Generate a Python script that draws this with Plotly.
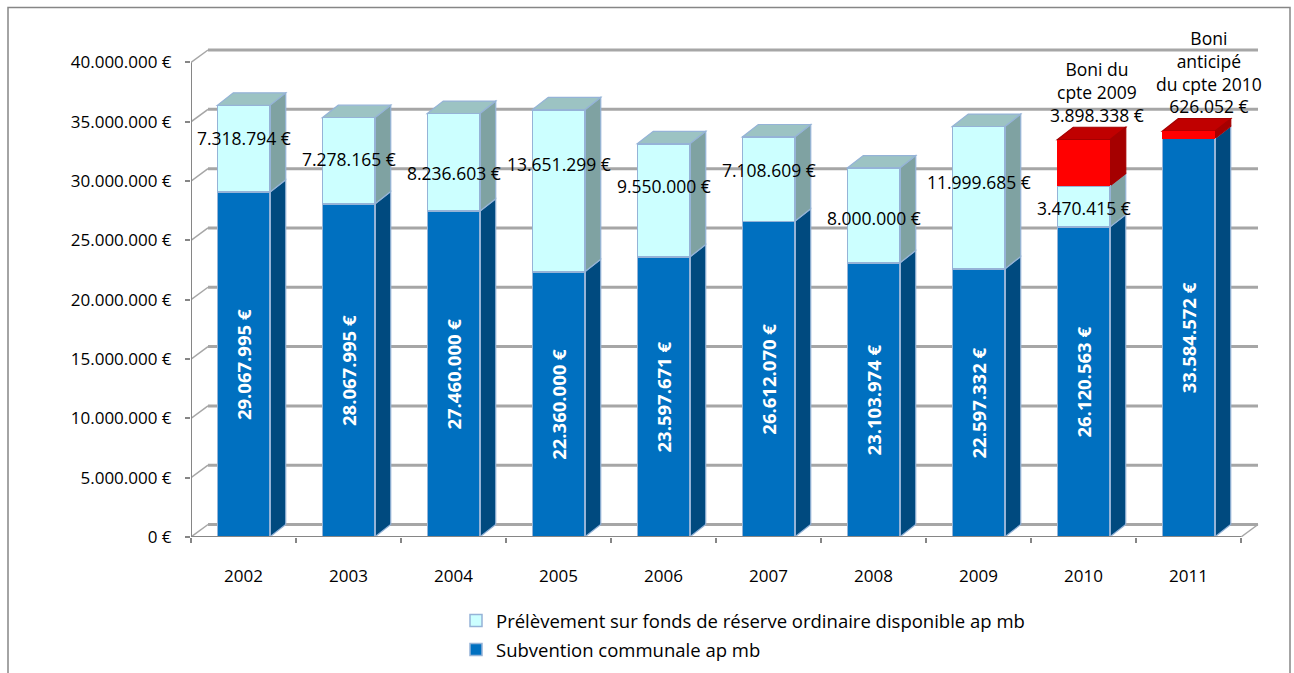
import plotly.graph_objects as go

# ---------------- data ----------------
years = ["2002", "2003", "2004", "2005", "2006", "2007", "2008", "2009", "2010", "2011"]
subvention = [29067995, 28067995, 27460000, 22360000, 23597671, 26612070, 23103974, 22597332, 26120563, 33584572]
prelevement = [7318794, 7278165, 8236603, 13651299, 9550000, 7108609, 8000000, 11999685, 3470415, None]
boni = [None, None, None, None, None, None, None, None, 3898338, 626052]
boni_titles = [None, None, None, None, None, None, None, None, "Boni du<br>cpte 2009", "Boni<br>anticipé<br>du cpte 2010"]
y_tick_values = [0, 5000000, 10000000, 15000000, 20000000, 25000000, 30000000, 35000000, 40000000]
name_sub = "Subvention communale ap mb"
name_pre = "Prélèvement sur fonds de réserve ordinaire disponible ap mb"

# ---------------- layout constants (pixels) ----------------
W, H = 1294, 673
PLOT_L = 191
CAT_PX = 105
Y0_PX = 537
YMAX_PX = 62
YMAX = 40000000
PX_PER_Y = (Y0_PX - YMAX_PX) / YMAX
WALL_DX, WALL_DY = 17, 12.5
BAR_DX, BAR_DY = 16, 12.5
PAD = 4
n = len(years)
plot_r_px = PLOT_L + n * CAT_PX + WALL_DX + PAD
plot_t_px = YMAX_PX - WALL_DY - PAD
x_range = [-0.5, n - 0.5 + (WALL_DX + PAD) / CAT_PX]
y_range = [0, YMAX + (WALL_DY + PAD) / PX_PER_Y]
PLOT_W = plot_r_px - PLOT_L
PLOT_H = Y0_PX - plot_t_px

def dx(px):
    return px / CAT_PX

def dy(px):
    return px / PX_PER_Y

def xp(px):
    return (px - PLOT_L) / PLOT_W

def yp(py):
    return (Y0_PX - py) / PLOT_H

BAR_W = 0.5
FONT = "Open Sans, Lato, Roboto, sans-serif"
BLUE = ("#0070C0", "#004A7F", "#005A9E")
CYAN = ("#CCFFFF", "#7FA2A2", "#9CC3C3")
RED = ("#FF0000", "#A50000", "#C00000")
EDGE = "#95B3D7"
GRID = "#A6A6A6"
AXIS = "#868686"

def fmt(v):
    return f"{v:,}".replace(",", ".") + " €"

shapes = []
# back wall gridlines and left wall diagonals
for v in y_tick_values:
    shapes.append(dict(type="line", xref="x", yref="y", layer="below",
                       x0=-0.5 + dx(WALL_DX), x1=n - 0.5 + dx(WALL_DX),
                       y0=v + dy(WALL_DY), y1=v + dy(WALL_DY),
                       line=dict(color=GRID, width=3)))
    shapes.append(dict(type="line", xref="x", yref="y", layer="below",
                       x0=-0.5, x1=-0.5 + dx(WALL_DX), y0=v, y1=v + dy(WALL_DY),
                       line=dict(color=GRID, width=1.5)))
shapes.append(dict(type="line", xref="x", yref="y", layer="below",
                   x0=n - 0.5, x1=n - 0.5 + dx(WALL_DX), y0=0, y1=dy(WALL_DY),
                   line=dict(color=GRID, width=1.5)))

def path(pts):
    return "M " + " L ".join(f"{px},{py}" for px, py in pts) + " Z"

# 3D side / top faces of the bars, built from the data
for i in range(n):
    segs = []
    base = 0
    for vals, cols, edge in ((subvention, BLUE, True), (prelevement, CYAN, True), (boni, RED, False)):
        v = vals[i]
        if v:
            segs.append((base, base + v, cols, edge))
            base += v
    xr = i + BAR_W / 2
    xl = i - BAR_W / 2
    for k, (b, t, cols, edge) in enumerate(segs):
        lc = EDGE if edge else cols[1]
        shapes.append(dict(type="path", xref="x", yref="y", layer="below",
                           path=path([(xr, b), (xr + dx(BAR_DX), b + dy(BAR_DY)),
                                      (xr + dx(BAR_DX), t + dy(BAR_DY)), (xr, t)]),
                           fillcolor=cols[1], line=dict(color=lc, width=1.2)))
        if k == len(segs) - 1:
            shapes.append(dict(type="path", xref="x", yref="y", layer="below",
                               path=path([(xl, t), (xl + dx(BAR_DX), t + dy(BAR_DY)),
                                          (xr + dx(BAR_DX), t + dy(BAR_DY)), (xr, t)]),
                               fillcolor=cols[2], line=dict(color=lc, width=1.2)))

# front axis lines
shapes.append(dict(type="line", xref="x", yref="y", x0=-0.5, x1=n - 0.5, y0=0, y1=0,
                   line=dict(color=AXIS, width=2)))
shapes.append(dict(type="line", xref="x", yref="y", x0=-0.5, x1=-0.5, y0=0, y1=YMAX,
                   line=dict(color=AXIS, width=2)))
# chart border
shapes.append(dict(type="rect", xref="paper", yref="paper",
                   x0=xp(8), x1=xp(1290), y0=yp(7), y1=yp(690),
                   line=dict(color=AXIS, width=1.5), fillcolor="rgba(0,0,0,0)"))

fig = go.Figure()
fig.add_trace(go.Bar(
    x=years, y=subvention, name=name_sub, width=BAR_W, legend="legend2",
    marker=dict(color=BLUE[0], line=dict(color=EDGE, width=1.5)),
    text=[f"<b>{fmt(v)}</b>" for v in subvention], textposition="inside",
    insidetextanchor="middle", textangle=-90, constraintext="none",
    textfont=dict(family=FONT, size=18.5, color="white"),
))
fig.add_trace(go.Bar(
    x=years, y=prelevement, name=name_pre, width=BAR_W, legend="legend",
    marker=dict(color=CYAN[0], line=dict(color=EDGE, width=1.5)),
))
fig.add_trace(go.Bar(
    x=years, y=boni, name="Boni", width=BAR_W, showlegend=False,
    marker=dict(color=RED[0], line=dict(color=RED[0], width=0)),
))

annotations = []
# label offsets (pixels) as placed on the original chart
pre_label_shift = [11, 2, -11, 27, 14, 9, -3, 16, -1, 0]
for i, v in enumerate(prelevement):
    if v:
        mid = subvention[i] + v / 2
        annotations.append(dict(x=i, y=mid, xref="x", yref="y", text=fmt(v), showarrow=False,
                                yshift=pre_label_shift[i],
                                font=dict(family=FONT, size=17.5, color="black")))
boni_xshift = [0, 0, 0, 0, 0, 0, 0, 0, 13, 20]
for i, v in enumerate(boni):
    if v:
        top = subvention[i] + (prelevement[i] or 0) + v
        annotations.append(dict(x=i, y=top, xref="x", yref="y",
                                text=f"{boni_titles[i]}<br>{fmt(v)}",
                                showarrow=False, yanchor="bottom", yshift=11,
                                xshift=boni_xshift[i], align="center",
                                font=dict(family=FONT, size=17.5, color="black")))

legend_style = dict(orientation="v", xanchor="left", yanchor="top", itemwidth=30,
                    font=dict(family=FONT, size=18.5), bgcolor="rgba(0,0,0,0)")

fig.update_layout(
    width=W, height=H,
    margin=dict(l=PLOT_L, r=W - plot_r_px, t=plot_t_px, b=H - Y0_PX, pad=0, autoexpand=False),
    paper_bgcolor="white", plot_bgcolor="white",
    barmode="stack", bargap=0.5,
    font=dict(family=FONT, size=17, color="black"),
    xaxis=dict(type="category", range=x_range, showgrid=False, showline=False, zeroline=False,
               ticks="outside", tickson="boundaries", ticklen=5, tickcolor=AXIS, tickwidth=1.5,
               ticklabelstandoff=27, tickfont=dict(family=FONT, size=17)),
    yaxis=dict(range=y_range, tickmode="array", tickvals=y_tick_values,
               ticktext=[fmt(v) for v in y_tick_values],
               showgrid=False, showline=False, zeroline=False,
               ticks="outside", ticklen=5, tickcolor=AXIS, tickwidth=1.5,
               ticklabelstandoff=10, tickfont=dict(family=FONT, size=17)),
    shapes=shapes,
    annotations=annotations,
    legend=dict(x=xp(456), y=yp(602), **legend_style),
    legend2=dict(x=xp(456), y=yp(631), **legend_style),
    showlegend=True,
)

fig.write_html("out.html")
